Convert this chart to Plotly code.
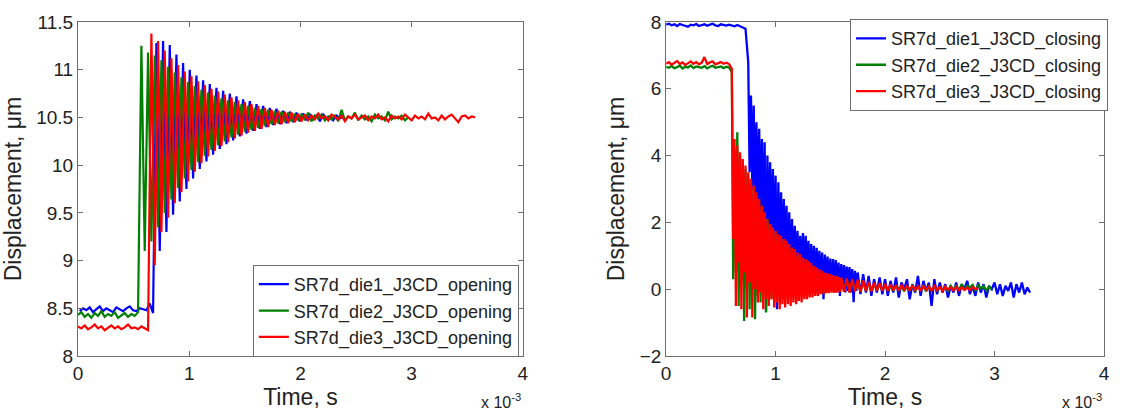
import numpy as np
import plotly.graph_objects as go

# ---------------- data (time in units of 1e-3 s, displacement in um) ----------------
# Opening (left) -- sampled on uniform grids: t = T0 + DT * i
OPEN_DT = 0.03
OPEN_T0_DIE1 = 0.015
OPEN_T0_DIE2 = 0.0
OPEN_T0_DIE3 = 0.0

open_die1 = [8.47, 8.50, 8.48, 8.51, 8.46, 8.49, 8.52, 8.47, 8.50, 8.48, 8.46, 8.51, 8.49, 8.47, 8.50,
             8.52, 8.48, 8.47, 8.50, 8.49, 8.48, 8.55, 8.45,
             11.28, 9.10, 11.30, 9.30, 11.26, 9.48, 11.16, 9.62, 11.07, 9.75, 11.00, 9.86, 10.94, 9.96,
             10.89, 10.04, 10.85, 10.11, 10.81, 10.17, 10.78, 10.22, 10.75, 10.26, 10.72, 10.30, 10.69,
             10.33, 10.67, 10.36, 10.64, 10.38, 10.62, 10.40, 10.60, 10.42, 10.59, 10.43, 10.57, 10.44,
             10.56, 10.45, 10.55, 10.46,
             10.54, 10.47, 10.53, 10.48, 10.52, 10.46, 10.53, 10.49, 10.51, 10.47, 10.52, 10.49, 10.51]

open_die2 = [8.43, 8.46, 8.41, 8.44, 8.40, 8.45, 8.42, 8.47, 8.41, 8.44, 8.42, 8.46, 8.40, 8.43, 8.45,
             8.41, 8.44, 8.42, 8.46,
             11.25, 9.10, 11.18, 9.20, 11.15, 9.35, 11.10, 9.50, 11.03, 9.64, 10.97, 9.76, 10.92, 9.86,
             10.87, 9.95, 10.83, 10.03, 10.79, 10.10, 10.76, 10.16, 10.73, 10.21, 10.70, 10.25, 10.68,
             10.29, 10.66, 10.32, 10.64, 10.35, 10.62, 10.37, 10.60, 10.39, 10.59, 10.41, 10.58, 10.43,
             10.57, 10.44, 10.56, 10.45, 10.55, 10.46,
             10.54, 10.47, 10.53, 10.48, 10.55, 10.46, 10.52, 10.49, 10.53, 10.47, 10.51, 10.48, 10.52,
             10.46, 10.58, 10.47, 10.51, 10.49, 10.55, 10.47, 10.52, 10.48, 10.51, 10.46, 10.53, 10.49,
             10.51, 10.47, 10.56, 10.48, 10.51, 10.49, 10.52, 10.47, 10.50]

open_die3 = [8.31, 8.29, 8.32, 8.28, 8.30, 8.33, 8.29, 8.31, 8.27, 8.30, 8.32, 8.29, 8.31, 8.28, 8.30,
             8.33, 8.29, 8.30, 8.28, 8.31, 8.29, 8.27,
             11.38, 8.95, 11.30, 9.30, 11.20, 9.45, 11.12, 9.60, 11.05, 9.72, 10.98, 9.83, 10.93, 9.93,
             10.88, 10.02, 10.84, 10.09, 10.80, 10.15, 10.77, 10.20, 10.74, 10.24, 10.71, 10.28, 10.68,
             10.31, 10.66, 10.34, 10.64, 10.36, 10.62, 10.38, 10.60, 10.40, 10.58, 10.42, 10.57, 10.43,
             10.56, 10.44, 10.55, 10.45, 10.54, 10.46,
             10.53, 10.47, 10.52, 10.48, 10.54, 10.49, 10.51, 10.47, 10.53, 10.50, 10.48, 10.52, 10.46,
             10.51, 10.49, 10.53, 10.48, 10.50, 10.52, 10.47, 10.51, 10.49, 10.53, 10.48, 10.50, 10.46,
             10.52, 10.49, 10.51, 10.48, 10.53, 10.50, 10.47, 10.52, 10.49, 10.51, 10.48, 10.54, 10.49,
             10.50, 10.47, 10.52, 10.48, 10.51, 10.53, 10.49, 10.45, 10.51, 10.52, 10.49, 10.51, 10.50]

# Closing (right) -- each die: baseline, fast ringing (finer sampling), tail
BASE_T0, BASE_DT = 0.0, 0.025
RING_DT = 0.0125
TAIL_DT = 0.025

close_die1_base = [7.92, 7.95, 7.90, 7.93, 7.88, 7.94, 7.91, 7.89, 7.86, 7.92, 7.90, 7.94, 7.88, 7.91,
                   7.93, 7.89, 7.92, 7.95, 7.90, 7.88, 7.93, 7.91, 7.89, 7.92, 7.90, 7.87, 7.91, 7.88,
                   7.84, 7.80]
DIE1_RING_T0 = 0.75
close_die1_ring = [6.80, 3.50, 5.80, 3.00, 5.50, 2.60, 5.00, 2.40, 4.80, 2.20, 4.50, 1.80, 4.40, -0.65,
                   4.00, 1.60, 3.80, 1.40, 3.60, 1.20, 3.40, -0.60, 3.20, 1.00, 2.90, 0.90, 2.70, 0.80,
                   2.50, 0.70, 2.30, 0.60, 2.10, 0.50, 1.90, 0.50, 1.75, 0.45, 1.60, 0.40, 1.68, 0.40,
                   1.60, 0.35, 1.45, 0.30, 1.35, 0.25, 1.30, 0.20, 1.24, 0.10, 1.15, 0.15, 1.10, -0.30,
                   1.04, 0.10, 0.98, 0.05, 0.92, 0.00, 0.90, -0.10, 0.87, 0.00, 0.80, -0.20, 0.75, 0.00,
                   0.72, -0.10, 0.68, -0.05, 0.66, -0.10, 0.60, -0.39, 0.55, -0.05]
DIE1_TAIL_T0 = 1.75
close_die1_tail = [0.50, -0.15, 0.45, -0.10, 0.40, -0.20, 0.30, -0.10, 0.35,
                   -0.15, 0.30, -0.20, 0.25, -0.10, 0.35, -0.25, 0.20, 0.00, 0.30, -0.30, 0.15, -0.10,
                   0.40, -0.20, 0.25, -0.05, 0.20, -0.50, 0.30, -0.15, 0.20, -0.10, 0.15, -0.25, 0.10,
                   -0.10, 0.20, -0.20, 0.15, 0.00, 0.25, -0.15, 0.10, -0.20, 0.20, -0.10, 0.15, -0.25,
                   0.10, 0.00, 0.20, -0.15, 0.15, -0.20, 0.10, -0.05, 0.20, -0.25, 0.15, -0.10, 0.20,
                   -0.15, 0.05, -0.10]

close_die2_base = [6.66, 6.63, 6.68, 6.62, 6.65, 6.69, 6.61, 6.66, 6.64, 6.70, 6.62, 6.67, 6.65, 6.63,
                   6.68, 6.61, 6.66, 6.69, 6.63, 6.65, 6.67, 6.62, 6.66, 6.64]
DIE2_RING_T0 = 0.6
close_die2_ring = [6.50, 0.30, 4.20, 0.50, 4.70, -0.50, 4.00, 0.20, 3.60, -0.95, 3.60, 0.00, 3.40, -0.60,
                   3.20, 0.10, 3.00, -0.90, 2.80, -0.20, 2.60, -0.40, 2.40, -0.10, 2.25, -0.70, 2.10,
                   -0.20, 1.95, -0.30, 1.80, -0.10, 1.70, -0.40, 1.60, -0.20, 1.50, -0.30, 1.40, -0.10,
                   1.35, -0.30, 1.25, -0.15, 1.15, -0.25, 1.10, -0.10, 1.00, -0.35, 0.95, -0.10, 0.90,
                   -0.20, 0.80, -0.10, 0.75, -0.20, 0.70, -0.10, 0.60, -0.10, 0.55, -0.15, 0.50, -0.10,
                   0.48, -0.10, 0.45, -0.10, 0.42, -0.08, 0.40, -0.05, 0.38, -0.10, 0.35, -0.08, 0.32,
                   -0.05]
DIE2_TAIL_T0 = 1.6
close_die2_tail = [0.30, -0.05, 0.28, -0.08, 0.25, -0.05, 0.22, -0.06, 0.20, -0.04, 0.18, -0.05, 0.16,
                   -0.03, 0.15, -0.04, 0.12,
                   -0.03, 0.10, -0.05, 0.12, -0.02, 0.08, -0.06, 0.10, -0.03, 0.09, -0.05, 0.07, -0.02,
                   0.10, -0.06, 0.08, -0.03, 0.09, -0.04, 0.06, -0.02, 0.08, -0.05, 0.10, -0.03, 0.12,
                   -0.04, 0.15, -0.02, 0.10, 0.05, 0.13, -0.05, 0.12, 0.02, 0.10, -0.04, 0.08, 0.00]

close_die3_base = [6.75, 6.80, 6.72, 6.78, 6.83, 6.74, 6.79, 6.71, 6.77, 6.82, 6.75, 6.80, 6.73, 6.78,
                   6.95, 6.74, 6.79, 6.82, 6.73, 6.77, 6.80, 6.75, 6.78, 6.74]
DIE3_RING_T0 = 0.6
close_die3_ring = [6.60, 1.50, 4.50, -0.50, 4.30, 0.80, 4.10, -0.60, 3.90, 0.50, 3.70, -0.85, 3.50, 0.20,
                   3.30, -0.85, 3.10, 0.00, 2.90, -0.40, 2.70, -0.10, 2.50, -0.60, 2.30, -0.30, 2.10,
                   -0.50, 1.95, -0.30, 1.85, -0.55, 1.75, -0.40, 1.65, -0.60, 1.60, -0.45, 1.50, -0.55,
                   1.45, -0.45, 1.35, -0.50, 1.25, -0.40, 1.20, -0.45, 1.10, -0.35, 1.05, -0.40, 0.95,
                   -0.30, 0.90, -0.30, 0.85, -0.25, 0.78, -0.25, 0.70, -0.20, 0.65, -0.20, 0.60, -0.15,
                   0.55, -0.15, 0.50, -0.12, 0.48, -0.12, 0.45, -0.10, 0.42, -0.10, 0.40, -0.10, 0.37,
                   -0.08]
DIE3_TAIL_T0 = 1.6
close_die3_tail = [0.35, -0.08, 0.32, -0.10, 0.30, -0.06, 0.28, -0.08, 0.26, -0.05, 0.22, -0.06, 0.20,
                   -0.04, 0.18, -0.05, 0.16,
                   -0.04, 0.14, -0.03, 0.12, -0.05, 0.13, -0.02, 0.10, -0.04, 0.11, -0.03, 0.09, -0.05,
                   0.10, -0.02, 0.08, -0.04, 0.09, -0.03, 0.07, -0.05, 0.08, -0.02, 0.06, -0.04, 0.07,
                   -0.03, 0.06, -0.02, 0.05, -0.03, 0.06, 0.00, 0.04]

open_names = ["SR7d_die1_J3CD_opening", "SR7d_die2_J3CD_opening", "SR7d_die3_J3CD_opening"]
close_names = ["SR7d_die1_J3CD_closing", "SR7d_die2_J3CD_closing", "SR7d_die3_J3CD_closing"]
colors = ["#0000ff", "#008000", "#ff0000"]

x_ticks = [0, 1, 2, 3, 4]
left_y_ticks = [8, 8.5, 9, 9.5, 10, 10.5, 11, 11.5]
right_y_ticks = [-2, 0, 2, 4, 6, 8]


def grid(t0, dt, vals):
    return t0 + dt * np.arange(len(vals))


def segs(*parts):
    t = np.concatenate([grid(t0, dt, v) for t0, dt, v in parts])
    y = np.concatenate([np.asarray(v, dtype=float) for _, _, v in parts])
    return t, y


# ---------------- figure ----------------
FONT = "Liberation Sans, Arial, sans-serif"
TXT = "#222222"
AX = "#6e6e6e"

fig = go.Figure()

open_sets = [(OPEN_T0_DIE1, open_die1), (OPEN_T0_DIE2, open_die2), (OPEN_T0_DIE3, open_die3)]
for (t0, vals), name, c in zip(open_sets, open_names, colors):
    fig.add_trace(go.Scatter(x=grid(t0, OPEN_DT, vals), y=vals, mode="lines", name=name,
                             line=dict(color=c, width=2.2), xaxis="x", yaxis="y", legend="legend"))

close_sets = [
    segs((BASE_T0, BASE_DT, close_die1_base), (DIE1_RING_T0, RING_DT, close_die1_ring),
         (DIE1_TAIL_T0, TAIL_DT, close_die1_tail)),
    segs((BASE_T0, BASE_DT, close_die2_base), (DIE2_RING_T0, RING_DT, close_die2_ring),
         (DIE2_TAIL_T0, TAIL_DT, close_die2_tail)),
    segs((BASE_T0, BASE_DT, close_die3_base), (DIE3_RING_T0, RING_DT, close_die3_ring),
         (DIE3_TAIL_T0, TAIL_DT, close_die3_tail)),
]
for (t, y), name, c in zip(close_sets, close_names, colors):
    fig.add_trace(go.Scatter(x=t, y=y, mode="lines", name=name,
                             line=dict(color=c, width=2.3), xaxis="x2", yaxis="y2", legend="legend2"))

L, R, T, B = 77, 14, 14, 53
W, H = 1122, 416
pw = W - L - R
ph = H - T - B
left_dom = [0, (524 - L) / pw]
right_dom = [(668 - L) / pw, 1]

axis_common = dict(showgrid=False, zeroline=False, showline=True, linecolor=AX, linewidth=1,
                   mirror="ticks", ticks="inside", ticklen=5, tickcolor=AX,
                   tickfont=dict(family=FONT, size=19, color=TXT))

fig.update_layout(
    width=W, height=H,
    margin=dict(l=L, r=R, t=T, b=B),
    paper_bgcolor="white", plot_bgcolor="white",
    font=dict(family=FONT, size=19, color=TXT),
    xaxis=dict(domain=left_dom, range=[0, 4], tickvals=x_ticks, anchor="y",
               title=dict(text="Time, s", standoff=4), **axis_common),
    yaxis=dict(domain=[0, 1], range=[8, 11.5], tickvals=left_y_ticks, anchor="x",
               title=dict(text="Displacement, μm", standoff=8), **axis_common),
    xaxis2=dict(domain=right_dom, range=[0, 4], tickvals=x_ticks, anchor="y2",
                title=dict(text="Time, s", standoff=4), **axis_common),
    yaxis2=dict(domain=[0, 1], range=[-2, 8], tickvals=right_y_ticks, anchor="x2",
                title=dict(text="Displacement, μm", standoff=8), **axis_common),
    legend=dict(x=(520 - L) / pw, y=(H - B - 364) / ph, xanchor="right", yanchor="bottom",
                bgcolor="white", bordercolor=AX, borderwidth=1,
                font=dict(family=FONT, size=18, color=TXT), tracegroupgap=0),
    legend2=dict(x=(1112 - L) / pw, y=(H - B - 11) / ph, xanchor="right", yanchor="top",
                 bgcolor="white", bordercolor=AX, borderwidth=1,
                 font=dict(family=FONT, size=18, color=TXT), tracegroupgap=0),
    showlegend=True,
)

for xr in [(524 - L) / pw, 1.0]:
    fig.add_annotation(x=xr, y=-0.098, xref="paper", yref="paper", xanchor="right", yanchor="top",
                       text="x 10<sup>-3</sup>", showarrow=False,
                       font=dict(family=FONT, size=16, color=TXT))

fig.write_html("out.html")
